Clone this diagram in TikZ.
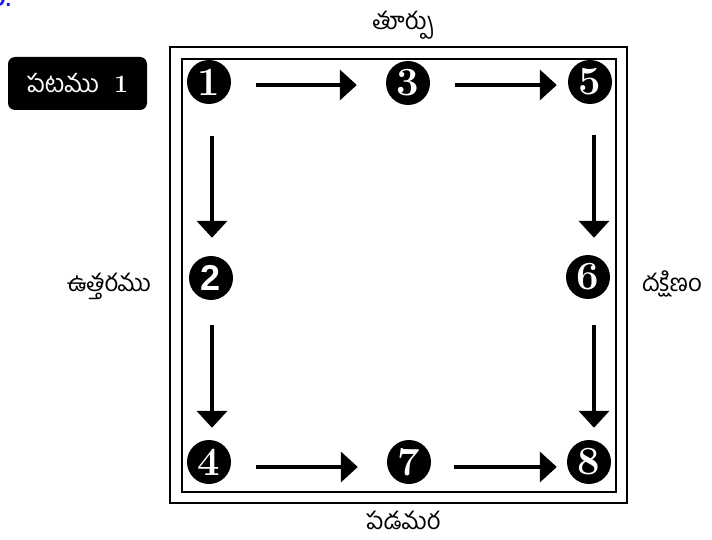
\documentclass[tikz,border=0pt]{standalone}
\usepackage{fontspec}
\usetikzlibrary{arrows.meta,calc}
\newfontfamily\te[Script=Telugu]{Hind Guntur}
\newfontfamily\lsans{Liberation Sans}
\definecolor{fragblue}{RGB}{20,20,235}
\tikzset{
  num/.style={circle,fill=black,text=white,minimum size=44pt,inner sep=0pt,font=\fontsize{40}{40}\selectfont\bfseries},
  arr/.style={line width=4pt,-{Triangle[length=17pt,width=30pt]}},
  dir/.style={font=\te\fontsize{24}{28}\selectfont,inner sep=0pt,anchor=base},
  frame/.style={line width=1.3pt}
}
\begin{document}
\begin{tikzpicture}[x=1pt,y=-1pt]
\useasboundingbox (0,0) rectangle (712,540);
\fill[white] (0,0) rectangle (712,540);
% clipped blue fragment at top-left
\begin{scope}
\clip (0,0) rectangle (712,540);
\node[anchor=base west,text=fragblue,inner sep=0pt,font=\lsans\fontsize{20}{20}\selectfont\bfseries] (frag) at (-9,7) {D.};
\end{scope}
% frames
\draw[frame] (170,47) rectangle (627,503);
\draw[frame] (182,59) rectangle (616,492);
% title
\node[fill=black,rounded corners=7pt,minimum width=139pt,minimum height=53pt,inner sep=0pt,text=white] (title) at (77.5,83.5)
  {{\te\fontsize{25}{28}\selectfont పటము}\hspace{15pt}{\fontsize{25}{25}\selectfont\bfseries 1}};
% numbered circles
\node[num] (n1) at (209,82) {1};
\node[num] (n3) at (408,83) {3};
\node[num] (n5) at (590,82) {5};
\node[num,font=\lsans\fontsize{36}{36}\selectfont\bfseries] (n2) at (211,278) {2};
\node[num] (n6) at (588,277) {6};
\node[num] (n4) at (209,462) {4};
\node[num] (n7) at (409,462) {7};
\node[num] (n8) at (589,462) {8};
% arrows
\draw[arr] ($(n1.east)+(25,3)$) -- ($(n3.west)+(-29,2)$);
\draw[arr] ($(n3.east)+(25,2)$) -- ($(n5.west)+(-11,3)$);
\draw[arr] ($(n4.east)+(25,5)$) -- ($(n7.west)+(-29,5)$);
\draw[arr] ($(n7.east)+(23,5)$) -- ($(n8.west)+(-10,5)$);
\draw[arr] ($(n1.south)+(3,32)$) -- ($(n2.north)+(1,-18)$);
\draw[arr] ($(n2.south)+(1,25)$) -- ($(n4.north)+(3,-12)$);
\draw[arr] ($(n5.south)+(4,31)$) -- ($(n6.north)+(6,-17)$);
\draw[arr] ($(n6.south)+(6,26)$) -- ($(n8.north)+(5,-12)$);
% direction labels
\node[dir] (east) at (403,30) {తూర్పు};
\node[dir] (north) at (109,291) {ఉత్తరము};
\node[dir] (south) at (672,291) {దక్షిణం};
\node[dir] (west) at (403,529) {పడమర};
\end{tikzpicture}
\end{document}
